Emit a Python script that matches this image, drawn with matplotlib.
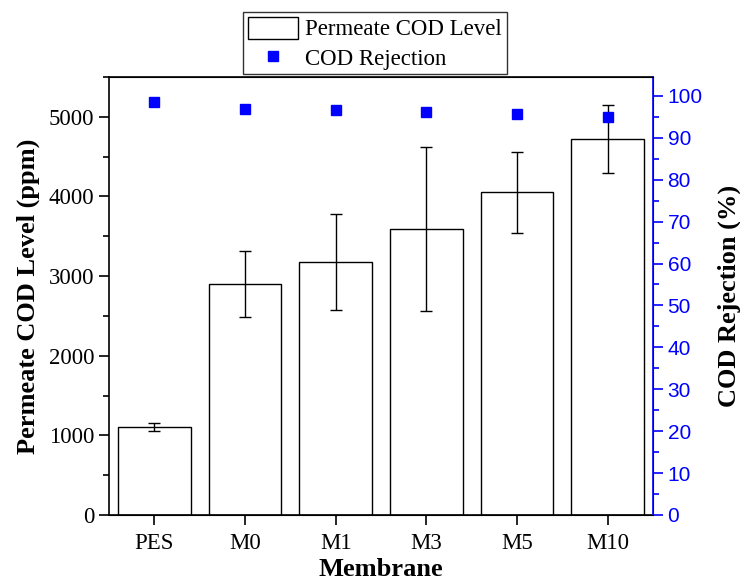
import numpy as np
import matplotlib
matplotlib.use('Agg')
import matplotlib.pyplot as plt
from matplotlib.ticker import MultipleLocator

plt.rcParams['font.family'] = ['Liberation Serif', 'DejaVu Serif']

membranes = ['PES', 'M0', 'M1', 'M3', 'M5', 'M10']
cod_level = [1105, 2905, 3180, 3590, 4050, 4720]
cod_err = [50, 415, 605, 1030, 505, 430]
rejection = [98.6, 96.9, 96.6, 96.1, 95.7, 95.0]

x = np.arange(len(membranes))

fig = plt.figure(figsize=(7.4, 5.82), dpi=100)
ax = fig.add_axes([109 / 740, 1 - 515 / 582, 544 / 740, 438 / 582])
ax2 = ax.twinx()

bars = ax.bar(x, cod_level, width=0.8, color='white', edgecolor='black', linewidth=1.0,
              label='Permeate COD Level', zorder=2)
ax.errorbar(x, cod_level, yerr=cod_err, fmt='none', ecolor='black', elinewidth=1.0,
            capsize=4, capthick=1.0, zorder=3)
pts, = ax2.plot(x, rejection, 's', color='blue', markersize=7, linestyle='none',
                label='COD Rejection')

ax.set_xlim(-0.5, 5.5)
ax.set_ylim(0, 5500)
ax2.set_ylim(0, 104.5)
ax.set_xticks(x)
ax.set_xticklabels(membranes)
ax.yaxis.set_major_locator(MultipleLocator(1000))
ax.yaxis.set_minor_locator(MultipleLocator(500))
ax2.yaxis.set_major_locator(MultipleLocator(10))
ax2.yaxis.set_minor_locator(MultipleLocator(5))

ax.tick_params(axis='both', which='major', direction='out', length=7, width=1.2, labelsize=16.5)
ax.tick_params(axis='x', which='major', pad=6)
ax.tick_params(axis='y', which='minor', direction='out', length=4, width=1.2)
ax2.tick_params(axis='y', which='major', direction='out', length=7, width=1.2,
                colors='blue', labelsize=15)
ax2.tick_params(axis='y', which='minor', direction='out', length=4, width=1.2, colors='blue')
for lbl in ax2.get_yticklabels():
    lbl.set_family(['Liberation Sans', 'DejaVu Sans'])
for s in ['left', 'bottom', 'top']:
    ax.spines[s].set_linewidth(1.2)
ax2.spines['right'].set_color('blue')
ax2.spines['right'].set_linewidth(1.2)
ax2.spines['left'].set_visible(False)

ax.set_xlabel('Membrane', fontsize=19, fontweight='bold', labelpad=3)
ax.set_ylabel('Permeate COD Level (ppm)', fontsize=19, fontweight='bold', labelpad=6)
ax2.set_ylabel('COD Rejection (%)', fontsize=19, fontweight='bold', labelpad=11)

leg = fig.legend([bars, pts], ['Permeate COD Level', 'COD Rejection'],
                 loc='upper center', bbox_to_anchor=(375 / 740, 1 - 12 / 582),
                 fontsize=16.5, frameon=True, fancybox=False, edgecolor='black',
                 handlelength=2.2, handleheight=1.1, borderpad=0.2, labelspacing=0.25,
                 handletextpad=0.3, borderaxespad=0.0)
leg.get_frame().set_linewidth(1.0)

fig.savefig('out.png', dpi=100)
